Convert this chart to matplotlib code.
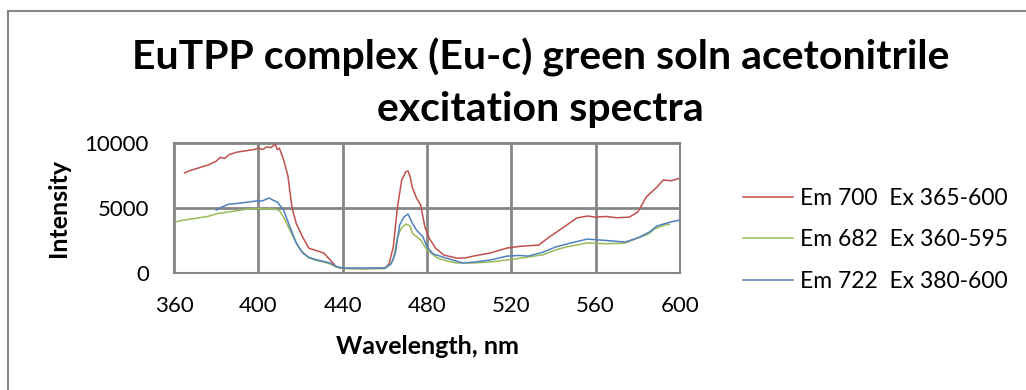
import matplotlib
matplotlib.use("Agg")
import matplotlib.pyplot as plt
from matplotlib.lines import Line2D

plt.rcParams['font.family'] = ['Lato', 'DejaVu Sans']

# Em 700, Ex 365-600
red_x = [365, 368, 372, 376, 380, 382, 384, 386, 390, 394, 398, 400, 402, 404, 406, 408, 409, 410,
         412, 414, 416, 418, 421, 424, 428, 431, 435, 437, 440, 450, 460, 462, 464, 466, 468, 470,
         471, 472, 473, 475, 477, 479, 481, 484, 488, 494, 498, 502, 510, 518, 524, 533, 538, 545,
         551, 556, 560, 565, 570, 576, 580, 584, 589, 592, 596, 600]
red_y = [7700, 7900, 8100, 8300, 8600, 8900, 8800, 9100, 9300, 9400, 9500, 9600, 9500, 9700, 9650, 9900, 9500, 9600,
         8700, 7500, 5000, 3800, 2770, 1900, 1700, 1540, 850, 460, 350, 330, 380, 700, 2000, 5080, 7150, 7800,
         7850, 7400, 6600, 5770, 5230, 3540, 2690, 1920, 1380, 1150, 1150, 1300, 1540, 1920, 2050, 2150, 2770, 3540,
         4230, 4380, 4300, 4350, 4250, 4300, 4690, 5850, 6600, 7150, 7100, 7300]

# Em 682, Ex 360-595
green_x = [360, 364, 368, 372, 376, 380, 384, 388, 392, 396, 400, 404, 408, 410, 412, 415, 418, 420,
           424, 428, 431, 434, 437, 440, 460, 462, 464, 466, 468, 470, 472, 473, 475, 477, 480, 485,
           490, 494, 502, 510, 518, 528, 535, 541, 546, 551, 556, 565, 574, 580, 585, 588, 593, 595]
green_y = [3900, 4050, 4150, 4250, 4350, 4550, 4650, 4750, 4850, 4950, 4950, 4950, 4900, 4800, 4300, 3300, 2300, 1770,
           1150, 950, 850, 700, 460, 350, 330, 600, 1000, 2770, 3500, 3770, 3600, 3070, 2800, 2540, 1770, 1150,
           900, 770, 770, 850, 1000, 1230, 1400, 1770, 2000, 2150, 2310, 2250, 2300, 2690, 3000, 3400, 3700, 3750]

# Em 722, Ex 380-600
blue_x = [380, 383, 386, 390, 395, 399, 402, 405, 407, 409, 412, 415, 418, 421, 424, 428, 434, 437,
          440, 460, 463, 465, 467, 469, 471, 473, 475, 478, 480, 483, 489, 497, 503, 510, 518, 524,
          528, 535, 541, 548, 556, 565, 574, 581, 586, 589, 595, 600]
blue_y = [4840, 5100, 5300, 5350, 5450, 5540, 5550, 5770, 5600, 5460, 4840, 3540, 2310, 1540, 1200, 1000, 770, 500,
          380, 380, 700, 1540, 3690, 4300, 4540, 3850, 3300, 2800, 2000, 1460, 1150, 770, 850, 1000, 1300, 1350,
          1300, 1600, 2000, 2300, 2610, 2500, 2380, 2770, 3200, 3610, 3900, 4080]

labels = ["Em 700  Ex 365-600", "Em 682  Ex 360-595", "Em 722  Ex 380-600"]
x_ticks = [360, 400, 440, 480, 520, 560, 600]
y_ticks = [0, 5000, 10000]

fig = plt.figure(figsize=(10.26, 3.9), dpi=100)
ax = fig.add_axes([174 / 1026, 1 - 273 / 390, 506 / 1026, 130 / 390])

ax.plot(red_x, red_y, color='#C0504D', lw=1.1, label=labels[0])
ax.plot(green_x, green_y, color='#9BBB59', lw=1.1, label=labels[1])
ax.plot(blue_x, blue_y, color='#4F81BD', lw=1.1, label=labels[2])

ax.set_xlim(360, 600)
ax.set_ylim(0, 10000)
ax.set_xticks(x_ticks)
ax.set_yticks(y_ticks)
ax.grid(True, color='#868686', lw=2)
for s in ax.spines.values():
    s.set_color('#868686')
    s.set_linewidth(1.5)
ax.tick_params(length=0, labelsize=16)
ax.tick_params(axis='x', pad=16.5)
ax.tick_params(axis='y', pad=18)
ax.set_xlabel("Wavelength, nm", fontsize=18, fontweight='bold')
ax.set_ylabel("Intensity", fontsize=18, fontweight='bold')
ax.xaxis.label.set_va('center')
ax.yaxis.label.set_va('center')
ax.xaxis.set_label_coords(0.5, (273 - 347) / 130)
ax.yaxis.set_label_coords((58 - 174) / 506, 0.5)

fig.text(0.527, 1 - 83 / 390, "EuTPP complex (Eu-c) green soln acetonitrile\nexcitation spectra",
         ha='center', va='center', fontsize=29.5, fontweight='bold', linespacing=1.46)

ax.legend(loc='center left', bbox_to_anchor=(743 / 1026, 1 - 240 / 390), bbox_transform=fig.transFigure,
          frameon=False, fontsize=16.5, handlelength=2.2, handletextpad=0.3, labelspacing=0.91,
          borderaxespad=0, borderpad=0)

# outer chart frame (clipped by image edges)
fig.add_artist(Line2D([8 / 1026, 8 / 1026], [0, 1 - 11 / 390], color='#868686', lw=1.5))
fig.add_artist(Line2D([8 / 1026, 1], [1 - 11 / 390, 1 - 11 / 390], color='#868686', lw=1.5))

fig.savefig("out.png", dpi=100)
